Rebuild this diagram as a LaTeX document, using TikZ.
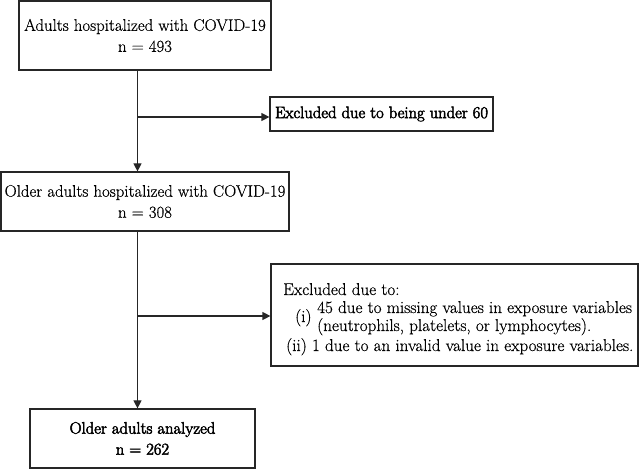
\documentclass[tikz,border=0pt]{standalone}
\usepackage{fontspec}
\setmainfont[FakeBold=0.4]{Latin Modern Roman}
\newfontfamily\semibold[FakeBold=3]{Latin Modern Roman}
\usetikzlibrary{arrows.meta}
\begin{document}
\begin{tikzpicture}[x=1pt,y=-1pt,
  box/.style={draw=black!85, line width=1.2pt, inner sep=0pt, align=center,
    font=\fontsize{16.8}{21}\selectfont},
  boldbox/.style={box, font=\fontsize{16.6}{21}\selectfont\semibold},
  note/.style={inner sep=0pt, anchor=base west, font=\fontsize{17.1}{18}\selectfont},
  arr/.style={line width=1.2pt, draw=black!85, -{Triangle[length=8pt,width=8pt]}}]
\useasboundingbox (0,0) rectangle (643,470);
\node[box, minimum width=252pt, minimum height=69pt] (b1) at (145,35.5)
  {Adults hospitalized with COVID-19\\ n = 493};
\node[boldbox, minimum width=223pt, minimum height=34pt] (b2) at (381.5,114)
  {Excluded due to being under 60};
\node[box, minimum width=288pt, minimum height=59pt] (b3) at (145,201.5)
  {Older adults hospitalized with COVID-19\\ n = 308};
\node[box, minimum width=367pt, minimum height=102pt] (b4) at (454.5,315) {};
\node[boldbox, minimum width=225pt, minimum height=59pt] (b5) at (142.5,438.5)
  {Older adults analyzed\\ n = 262};
\node[note] (t1) at (283,295) {Excluded due to:};
\node[note] (t2) at (317,313) {45 due to missing values in exposure variables};
\node[note] (t3) at (317,331) {(neutrophils, platelets, or lymphocytes).};
\node[note] (t4) at (295,322) {(i)};
\node[note] (t5) at (286,351) {(ii) 1 due to an invalid value in exposure variables.};
\coordinate (j1) at (137.5,117);
\coordinate (j2) at (137.5,316);
\draw[arr] (b1.south -| j1) -- (b3.north -| j1);
\draw[arr] (j1) -- (j1 -| b2.west);
\draw[arr] (b3.south -| j2) -- (b5.north -| j2);
\draw[arr] (j2) -- (j2 -| b4.west);
\end{tikzpicture}
\end{document}
